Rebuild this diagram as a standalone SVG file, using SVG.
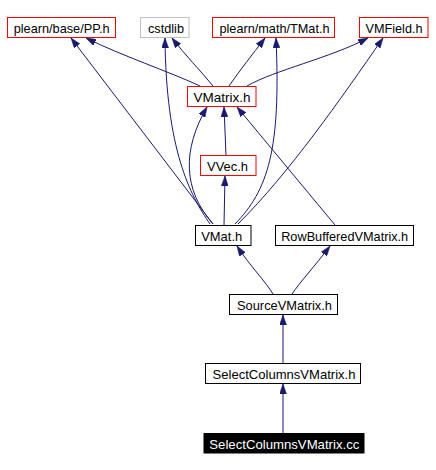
<svg xmlns="http://www.w3.org/2000/svg" width="436" height="470" viewBox="0 0 436 470">
<defs>
<style>
.n rect{fill:#ffffff;stroke:#000000;stroke-width:1}
.n.r rect{stroke:#ff0000}
.n.g rect{stroke:#bfbfbf}
.n.b rect{fill:#000000;stroke:#000000}
.n text{font-family:"Liberation Sans",Arial,sans-serif;font-size:13.5px;fill:#000000;text-anchor:middle}
.n.b text{fill:#ffffff}
#edges path{fill:none;stroke:#191970;stroke-width:1;marker-end:url(#ah)}
</style>
<marker id="ah" viewBox="0 0 10 7" refX="10" refY="3.5" markerWidth="10" markerHeight="7" markerUnits="userSpaceOnUse" orient="auto">
<path d="M0,0 L10,3.5 L0,7 z" fill="#191970" stroke="#191970" stroke-width="0.5"/>
</marker>
</defs>
<rect x="0" y="0" width="436" height="470" fill="#ffffff"/>
<g id="edges">
<path d="M200,86 C170,72 120,55 86,38"/>
<path d="M213,86 C200,70 185,55 172,38"/>
<path d="M229,86 C240,70 252,55 265,38"/>
<path d="M247,86 C275,70 330,58 368,38"/>
<path d="M213,224 L71,38"/>
<path d="M210,224 C190,195 166,150 165,38"/>
<path d="M213,224 C183,190 182,150 207,107"/>
<path d="M226,155 L224,107"/>
<path d="M224,225 L225,176"/>
<path d="M235,224 C268,190 281,150 276,38"/>
<path d="M238,224 C290,172 340,100 383,38"/>
<path d="M335,225 L237,107"/>
<path d="M273,294 C266,282 250,266 237,246"/>
<path d="M292,294 C300,282 315,266 330,246"/>
<path d="M283,363 L283,315"/>
<path d="M283,433 L283,384"/>
</g>
<g id="pp" class="n r"><rect x="7.5" y="17.5" width="108" height="20"/><text x="61.7" y="32.8" textLength="96" lengthAdjust="spacingAndGlyphs">plearn/base/PP.h</text></g>
<g id="cstdlib" class="n g"><rect x="140.5" y="17.5" width="48.5" height="20"/><text x="166" y="32.8" textLength="36" lengthAdjust="spacingAndGlyphs">cstdlib</text></g>
<g id="tmat" class="n r"><rect x="212.5" y="17.5" width="122" height="20"/><text x="274.5" y="32.8" textLength="110" lengthAdjust="spacingAndGlyphs">plearn/math/TMat.h</text></g>
<g id="vmfield" class="n r"><rect x="359.5" y="17.5" width="68.5" height="20"/><text x="394" y="32.8" textLength="57" lengthAdjust="spacingAndGlyphs">VMField.h</text></g>
<g id="vmatrix" class="n r"><rect x="187.5" y="86.5" width="68.5" height="20"/><text x="222" y="101.8" textLength="57" lengthAdjust="spacingAndGlyphs">VMatrix.h</text></g>
<g id="vvec" class="n r"><rect x="200.5" y="155.5" width="55.5" height="20"/><text x="227.5" y="170.8" textLength="41" lengthAdjust="spacingAndGlyphs">VVec.h</text></g>
<g id="vmat" class="n"><rect x="195.5" y="225.5" width="55.5" height="20"/><text x="221.7" y="240.8" textLength="41" lengthAdjust="spacingAndGlyphs">VMat.h</text></g>
<g id="rowbuffered" class="n"><rect x="275.5" y="225.5" width="138" height="20"/><text x="344.7" y="240.8" textLength="127" lengthAdjust="spacingAndGlyphs">RowBufferedVMatrix.h</text></g>
<g id="source" class="n"><rect x="229.5" y="294.5" width="108" height="20"/><text x="284.5" y="309.8" textLength="95" lengthAdjust="spacingAndGlyphs">SourceVMatrix.h</text></g>
<g id="selecth" class="n"><rect x="205.5" y="363.5" width="155" height="20"/><text x="284" y="378.8" textLength="143" lengthAdjust="spacingAndGlyphs">SelectColumnsVMatrix.h</text></g>
<g id="selectcc" class="n b"><rect x="204" y="433.5" width="160" height="19.5"/><text x="284.3" y="448.6" textLength="150" lengthAdjust="spacingAndGlyphs">SelectColumnsVMatrix.cc</text></g>
</svg>
